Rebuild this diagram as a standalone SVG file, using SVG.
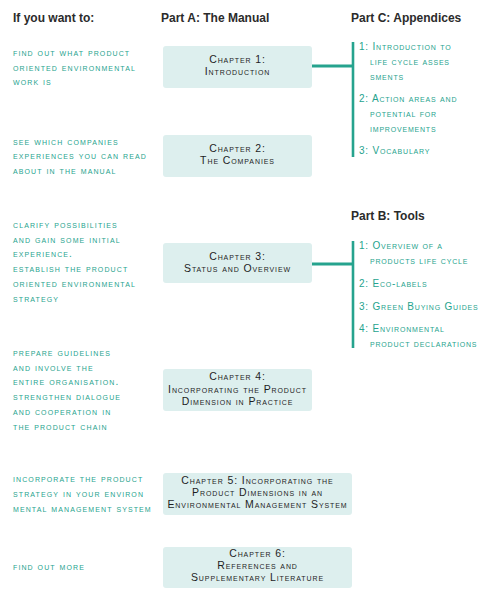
<svg xmlns="http://www.w3.org/2000/svg" width="490" height="598" viewBox="0 0 490 598">
<style>
.hd{font-family:"Liberation Sans",Arial,sans-serif;font-weight:bold;font-size:12px;fill:#2b2b2b}
.lt{font-family:"Liberation Sans",Arial,sans-serif;font-size:10px;font-variant:small-caps;letter-spacing:1.1px;fill:#26a38e}
.rt{font-family:"Liberation Sans",Arial,sans-serif;font-size:10px;font-variant:small-caps;letter-spacing:0.8px;fill:#26a38e}
.bx{fill:#ddefee;stroke:none}
.bt{font-family:"Liberation Sans",Arial,sans-serif;font-size:10.5px;font-variant:small-caps;letter-spacing:0.9px;fill:#1e1e1e;text-anchor:middle}
.ln{stroke:#26a38e;fill:none}
</style>
<g id="headers">
<text class="hd" x="13" y="22">If you want to:</text>
<text class="hd" x="161" y="22">Part A: The Manual</text>
<text class="hd" x="351" y="22">Part C: Appendices</text>
<text class="hd" x="351" y="220">Part B: Tools</text>
</g>
<g id="goals">
<text class="lt" x="13" y="56">find out what product</text>
<text class="lt" x="13" y="71">oriented environmental</text>
<text class="lt" x="13" y="85">work is</text>
<text class="lt" x="13" y="145">see which companies</text>
<text class="lt" x="13" y="159">experiences you can read</text>
<text class="lt" x="13" y="174">about in the manual</text>
<text class="lt" x="13" y="228">clarify possibilities</text>
<text class="lt" x="13" y="243">and gain some initial</text>
<text class="lt" x="13" y="257">experience.</text>
<text class="lt" x="13" y="272">establish the product</text>
<text class="lt" x="13" y="287">oriented environmental</text>
<text class="lt" x="13" y="302">strategy</text>
<text class="lt" x="13" y="356">prepare guidelines</text>
<text class="lt" x="13" y="371">and involve the</text>
<text class="lt" x="13" y="385">entire organisation.</text>
<text class="lt" x="13" y="400">strengthen dialogue</text>
<text class="lt" x="13" y="415">and cooperation in</text>
<text class="lt" x="13" y="430">the product chain</text>
<text class="lt" x="13" y="482">incorporate the product</text>
<text class="lt" x="13" y="497">strategy in your environ</text>
<text class="lt" x="13" y="512">mental management system</text>
<text class="lt" x="13" y="570">find out more</text>
</g>
<g id="connectors">
<line class="ln" x1="312" y1="66" x2="353" y2="66" stroke-width="3"/>
<line class="ln" x1="353" y1="42" x2="353" y2="157" stroke-width="2.6"/>
<line class="ln" x1="312" y1="264" x2="353" y2="264" stroke-width="3"/>
<line class="ln" x1="353" y1="241" x2="353" y2="348" stroke-width="2.6"/>
</g>
<g id="ch1"><rect class="bx" x="163" y="46" width="149" height="42" rx="3"/>
<text class="bt" x="237.5" y="63">Chapter 1:</text>
<text class="bt" x="237.5" y="75">Introduction</text></g>
<g id="ch2"><rect class="bx" x="163" y="135" width="149" height="42" rx="3"/>
<text class="bt" x="237.5" y="152">Chapter 2:</text>
<text class="bt" x="237.5" y="164">The Companies</text></g>
<g id="ch3"><rect class="bx" x="163" y="243" width="149" height="40" rx="3"/>
<text class="bt" x="237.5" y="260">Chapter 3:</text>
<text class="bt" x="237.5" y="272">Status and Overview</text></g>
<g id="ch4"><rect class="bx" x="163" y="369" width="149" height="42" rx="3"/>
<text class="bt" x="237.5" y="380">Chapter 4:</text>
<text class="bt" x="237.5" y="393">Incorporating the Product</text>
<text class="bt" x="237.5" y="405">Dimension in Practice</text></g>
<g id="ch5"><rect class="bx" x="163" y="473" width="189" height="42" rx="3"/>
<text class="bt" x="257.5" y="484">Chapter 5: Incorporating the</text>
<text class="bt" x="257.5" y="496">Product Dimensions in an</text>
<text class="bt" x="257.5" y="508">Environmental Management System</text></g>
<g id="ch6"><rect class="bx" x="163" y="547" width="189" height="41" rx="3"/>
<text class="bt" x="257.5" y="557">Chapter 6:</text>
<text class="bt" x="257.5" y="569">References and</text>
<text class="bt" x="257.5" y="581">Supplementary Literature</text></g>
<g id="appendices">
<text class="rt" x="359" y="50">1: Introduction to</text>
<text class="rt" x="370" y="65">life cycle asses</text>
<text class="rt" x="370" y="80">sments</text>
<text class="rt" x="359" y="102">2: Action areas and</text>
<text class="rt" x="370" y="117">potential for</text>
<text class="rt" x="370" y="132">improvements</text>
<text class="rt" x="359" y="154">3: Vocabulary</text>
</g>
<g id="tools">
<text class="rt" x="359" y="249">1: Overview of a</text>
<text class="rt" x="370" y="264">products life cycle</text>
<text class="rt" x="359" y="287">2: Eco-labels</text>
<text class="rt" x="359" y="310">3: Green Buying Guides</text>
<text class="rt" x="359" y="332">4: Environmental</text>
<text class="rt" x="370" y="347">product declarations</text>
</g>
</svg>
